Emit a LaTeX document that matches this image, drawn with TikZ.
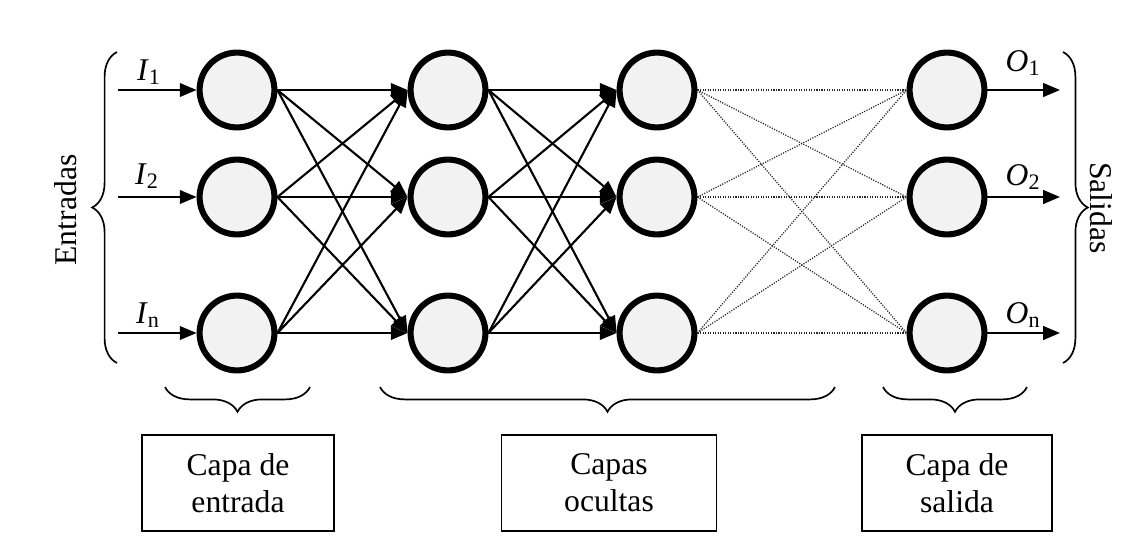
\documentclass[tikz,border=0pt]{standalone}
\usepackage{fontspec}
\setmainfont{Liberation Serif}
\usetikzlibrary{arrows.meta,decorations.pathreplacing}
\definecolor{neurongray}{RGB}{242,242,242}

\begin{document}
\begin{tikzpicture}[x=0.025cm,y=-0.025cm,
  neuron/.style={circle,draw,line width=4.3pt,fill=neurongray,minimum size=1.87cm,inner sep=0pt},
  conn/.style={line width=1.5pt,-{Triangle[length=0.42cm,width=0.34cm]}},
  dots/.style={line width=0.9pt,black!85,dash pattern=on 0.8pt off 1pt},
  layerbox/.style={draw,line width=1.3pt,minimum height=2.4cm,align=center,font=\fontsize{22.5}{26.5}\selectfont},
  lbl/.style={font=\fontsize{22.5}{26}\selectfont,inner sep=1pt},
  curly/.style={decorate,decoration={brace,amplitude=0.62cm},line width=1.2pt}]

\useasboundingbox (0,0) rectangle (1145,540);

% --- Neurons ---
\node[neuron] (ent1) at (237,90) {};
\node[neuron] (ent2) at (237,197) {};
\node[neuron] (ent3) at (237,333) {};

\node[neuron] (ocA1) at (448,90) {};
\node[neuron] (ocA2) at (448,197) {};
\node[neuron] (ocA3) at (448,333) {};

\node[neuron] (ocB1) at (657,90) {};
\node[neuron] (ocB2) at (657,197) {};
\node[neuron] (ocB3) at (657,333) {};

\node[neuron] (sal1) at (947,90) {};
\node[neuron] (sal2) at (947,197) {};
\node[neuron] (sal3) at (947,333) {};

% --- Inputs ---
\coordinate (x1) at (118,90);
\coordinate (x2) at (118,197);
\coordinate (x3) at (118,333);
\draw[conn] (x1) -- (ent1.west);
\draw[conn] (x2) -- (ent2.west);
\draw[conn] (x3) -- (ent3.west);
\node[lbl] (i1) at (149,72) {\textit{I}\textsubscript{1}};
\node[lbl] (i2) at (147,176) {\textit{I}\textsubscript{2}};
\node[lbl] (i3) at (148,315) {\textit{I}\textsubscript{n}};

% --- Input layer to first hidden layer ---
\draw[conn] (ent1.east) -- (ocA1.west);
\draw[conn] (ent1.east) -- (ocA2.west);
\draw[conn] (ent1.east) -- (ocA3.west);
\draw[conn] (ent2.east) -- (ocA1.west);
\draw[conn] (ent2.east) -- (ocA2.west);
\draw[conn] (ent2.east) -- (ocA3.west);
\draw[conn] (ent3.east) -- (ocA1.west);
\draw[conn] (ent3.east) -- (ocA2.west);
\draw[conn] (ent3.east) -- (ocA3.west);

% --- First hidden layer to second hidden layer ---
\draw[conn] (ocA1.east) -- (ocB1.west);
\draw[conn] (ocA1.east) -- (ocB2.west);
\draw[conn] (ocA1.east) -- (ocB3.west);
\draw[conn] (ocA2.east) -- (ocB1.west);
\draw[conn] (ocA2.east) -- (ocB2.west);
\draw[conn] (ocA2.east) -- (ocB3.west);
\draw[conn] (ocA3.east) -- (ocB1.west);
\draw[conn] (ocA3.east) -- (ocB2.west);
\draw[conn] (ocA3.east) -- (ocB3.west);

% --- Further layers (dotted) ---
\draw[dots] (ocB1.east) -- (sal1.west);
\draw[dots] (ocB1.east) -- (sal2.west);
\draw[dots] (ocB1.east) -- (sal3.west);
\draw[dots] (ocB2.east) -- (sal1.west);
\draw[dots] (ocB2.east) -- (sal2.west);
\draw[dots] (ocB2.east) -- (sal3.west);
\draw[dots] (ocB3.east) -- (sal1.west);
\draw[dots] (ocB3.east) -- (sal2.west);
\draw[dots] (ocB3.east) -- (sal3.west);

% --- Outputs ---
\coordinate (y1) at (1060,90);
\coordinate (y2) at (1060,197);
\coordinate (y3) at (1060,333);
\draw[conn] (sal1.east) -- (y1);
\draw[conn] (sal2.east) -- (y2);
\draw[conn] (sal3.east) -- (y3);
\node[lbl] (o1) at (1023,63) {\textit{O}\textsubscript{1}};
\node[lbl] (o2) at (1023,177) {\textit{O}\textsubscript{2}};
\node[lbl] (o3) at (1023,315) {\textit{O}\textsubscript{n}};

% --- Side braces ---
\draw[curly] (117,363) -- (117,52);
\draw[curly] (1063,52) -- (1063,363);
\node[lbl,rotate=90] (entradas) at (66,210) {Entradas};
\node[lbl,rotate=-90] (salidas) at (1101,208) {Salidas};

% --- Layer braces and boxes ---
\draw[curly] (310,387) -- (165,387);
\draw[curly] (835,387) -- (380,387);
\draw[curly] (1027,387) -- (883,387);

\node[layerbox,minimum width=4.8cm] (capaE) at (238,483) {Capa de\\entrada};
\node[layerbox,minimum width=5.37cm] (capaO) at (609,483) {Capas\\ocultas};
\node[layerbox,minimum width=4.75cm] (capaS) at (957,483) {Capa de\\salida};

\end{tikzpicture}
\end{document}
